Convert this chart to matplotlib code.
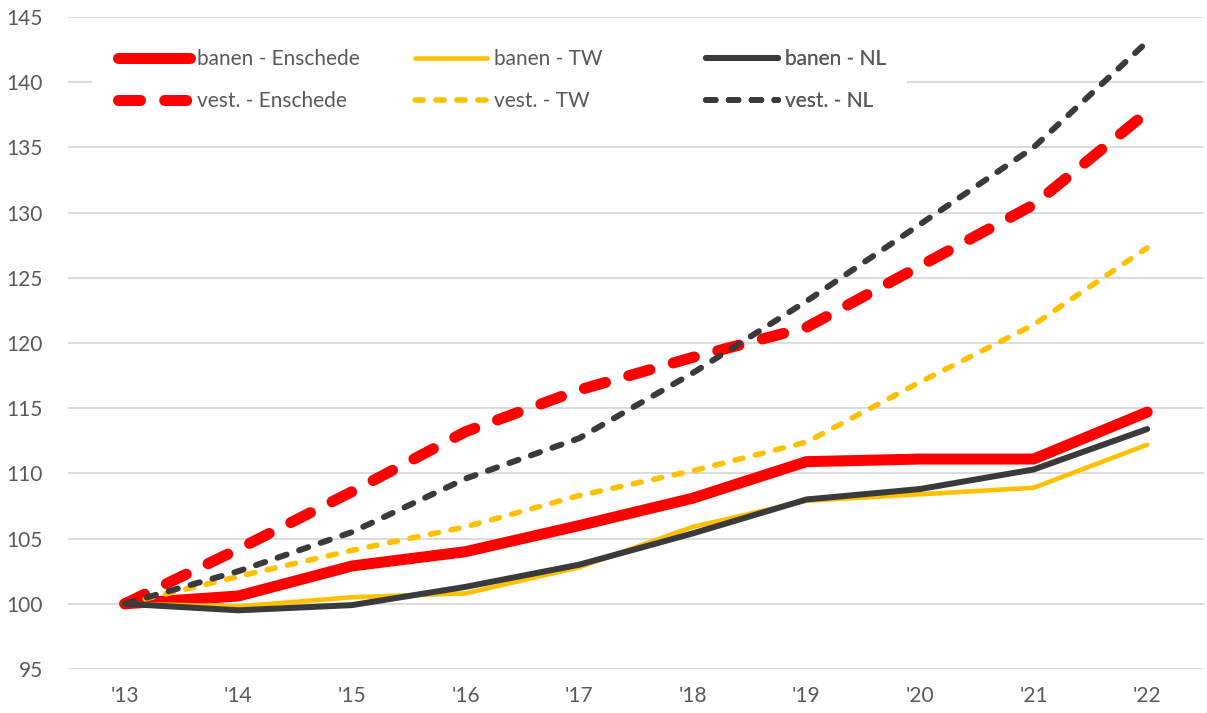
import matplotlib
matplotlib.use("Agg")
import matplotlib.pyplot as plt
import matplotlib.patches as mpatches

# Index (2013 = 100): jobs ("banen") and establishments ("vest.")
YEARS = ["'13", "'14", "'15", "'16", "'17", "'18", "'19", "'20", "'21", "'22"]

BANEN_ENS = [100, 100.6, 102.9, 104.0, 106.0, 108.1, 110.9, 111.1, 111.1, 114.7]
BANEN_TW = [100, 99.8, 100.5, 100.8, 102.8, 105.9, 107.9, 108.4, 108.9, 112.2]
BANEN_NL = [100, 99.5, 99.9, 101.3, 103.0, 105.4, 108.0, 108.8, 110.3, 113.4]
VEST_ENS = [100, 104.2, 108.6, 113.2, 116.4, 118.9, 121.2, 125.9, 130.6, 137.7]
VEST_TW = [100, 102.1, 104.1, 105.9, 108.3, 110.2, 112.4, 117.0, 121.4, 127.3]
VEST_NL = [100, 102.5, 105.5, 109.6, 112.7, 117.7, 123.2, 129.1, 135.0, 143.1]

RED = "#FF0000"
YELLOW = "#FFC000"
DARK = "#3A3A3A"
TEXT = "#595959"
GRID = "#D9D9D9"

plt.rcParams["font.family"] = ["Lato", "DejaVu Sans"]

fig = plt.figure(figsize=(12.07, 7.13), dpi=100)
ax = fig.add_axes([68 / 1207, 44 / 713, 1136 / 1207, 652 / 713])

x = list(range(len(YEARS)))
px = 72 / 100  # points per pixel

series = [
    (BANEN_ENS, "banen - Enschede", RED, 11, "-"),
    (VEST_ENS, "vest. - Enschede", RED, 11, (0, (2.0, 2.2))),
    (BANEN_TW, "banen - TW", YELLOW, 4.6, "-"),
    (VEST_TW, "vest. - TW", YELLOW, 5.5, (0, (1.5, 2.3))),
    (BANEN_NL, "banen - NL", DARK, 6, "-"),
    (VEST_NL, "vest. - NL", DARK, 6, (0, (1.6, 2.2))),
]

handles = []
for vals, label, color, lw, ls in series:
    (ln,) = ax.plot(x, vals, color=color, lw=lw * px, linestyle=ls,
                    solid_capstyle="round", dash_capstyle="round",
                    solid_joinstyle="round", label=label, zorder=3)
    handles.append(ln)

ax.set_xlim(-0.5, len(YEARS) - 0.5)
ax.set_ylim(95, 145)
ax.set_yticks(range(95, 146, 5))
ax.set_xticks(x)
ax.set_xticklabels(YEARS)
ax.grid(axis="y", color=GRID, lw=1.3)
ax.set_axisbelow(True)
for s in ax.spines.values():
    s.set_visible(False)
ax.tick_params(length=0, labelsize=15, labelcolor=TEXT)
ax.tick_params(axis="y", pad=18)
ax.tick_params(axis="x", pad=12)

# white legend background hides the gridline behind it
ax.add_patch(mpatches.Rectangle((92 / 1207, 1 - 128 / 713), 815 / 1207, 95 / 713,
                                transform=fig.transFigure, facecolor="white",
                                edgecolor="none", zorder=1, clip_on=False))

# legend: three columns placed like the original
col_x = [118, 415, 706]
for i, cx in enumerate(col_x):
    leg = ax.legend(handles=handles[2 * i:2 * i + 2], loc="upper left",
                    bbox_to_anchor=(cx / 1207, 1 - 49 / 713),
                    bbox_transform=fig.transFigure, frameon=False,
                    fontsize=15, handlelength=3.45, handletextpad=0.35,
                    labelspacing=1.05, borderpad=0, borderaxespad=0)
    for t in leg.get_texts():
        t.set_color(TEXT)
    ax.add_artist(leg)

fig.savefig("out.png", dpi=100, facecolor="white")
